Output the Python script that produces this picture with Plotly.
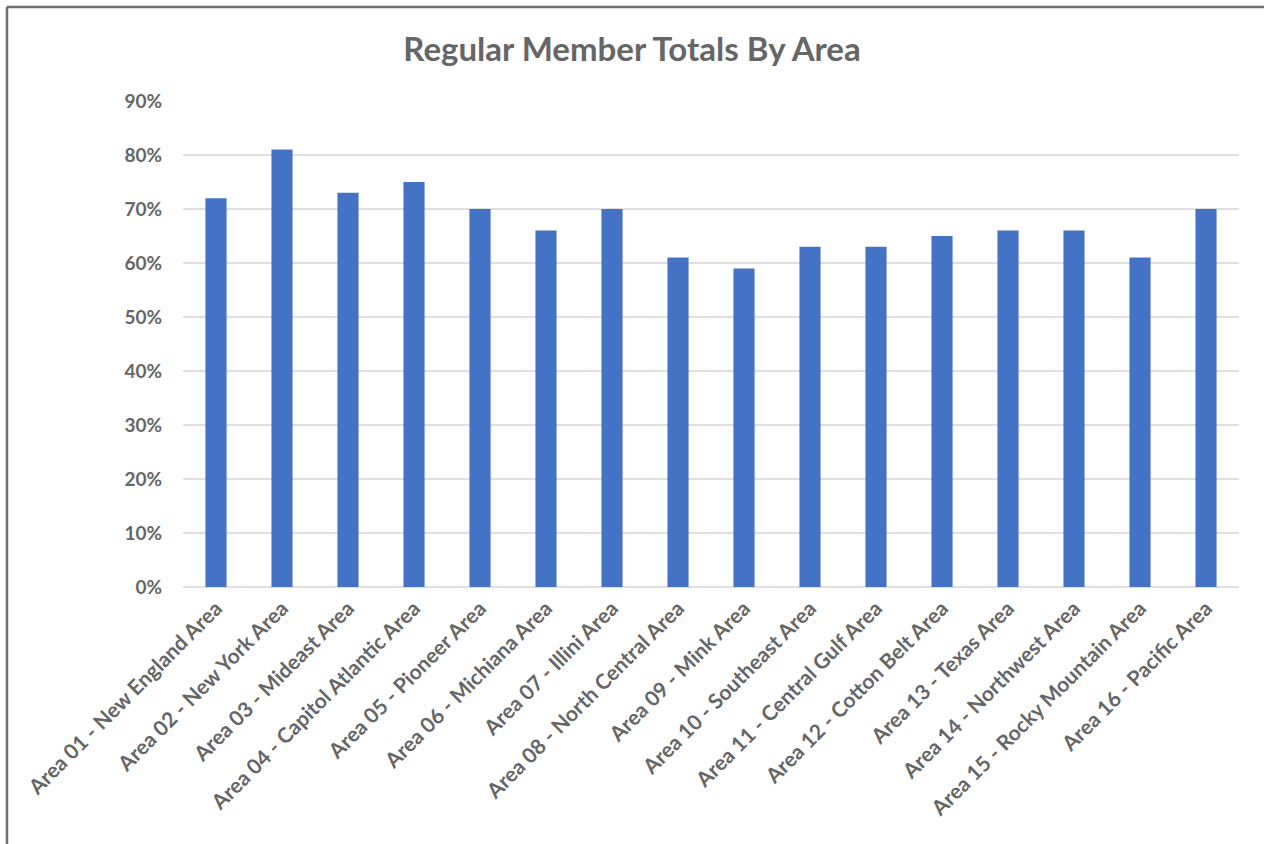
import plotly.graph_objects as go

areas = [
    "Area 01 - New England Area", "Area 02 - New York Area", "Area 03 - Mideast Area",
    "Area 04 - Capitol Atlantic Area", "Area 05 - Pioneer Area", "Area 06 - Michiana Area",
    "Area 07 - Illini Area", "Area 08 - North Central Area", "Area 09 - Mink Area",
    "Area 10 - Southeast Area", "Area 11 - Central Gulf Area", "Area 12 - Cotton Belt Area",
    "Area 13 - Texas Area", "Area 14 - Northwest Area", "Area 15 - Rocky Mountain Area",
    "Area 16 - Pacific Area",
]
values = [0.72, 0.81, 0.73, 0.75, 0.70, 0.66, 0.70, 0.61, 0.59, 0.63, 0.63, 0.65, 0.66, 0.66, 0.61, 0.70]
tick_vals = [0, 0.1, 0.2, 0.3, 0.4, 0.5, 0.6, 0.7, 0.8, 0.9]

FONT = "Lato"
GRAY = "#666666"

fig = go.Figure(go.Bar(x=areas, y=values, marker=dict(color="#4472C4", line=dict(width=0))))

W, H = 1264, 844
L, R, T, B = 183, 25, 101, 257
pw, ph = W - L - R, H - T - B

def px(x):
    return (x - L) / pw

def py(y):
    return (H - B - y) / ph

fig.update_layout(
    width=W, height=H,
    margin=dict(l=L, r=R, t=T, b=B, autoexpand=False),
    paper_bgcolor="white", plot_bgcolor="white",
    bargap=0.68,
    showlegend=False,
    title=dict(text="Regular Member Totals By Area", x=0.5, xanchor="center",
               y=1 - 49 / H, yanchor="middle",
               font=dict(family=FONT, size=33, color=GRAY, weight="bold")),
    xaxis=dict(tickangle=-45, tickfont=dict(family=FONT, size=21, color=GRAY, weight="bold"),
               showgrid=False, showline=False, ticks="", ticklabelstandoff=4),
    yaxis=dict(range=[0, 0.9], tickvals=tick_vals, tickformat=".0%",
               tickfont=dict(family=FONT, size=19, color=GRAY, weight="bold"),
               showgrid=True, gridcolor="#E0E0E0", gridwidth=2,
               zeroline=True, zerolinecolor="#E0E0E0", zerolinewidth=2,
               showline=False, ticks="", ticklabelstandoff=20),
    shapes=[
        dict(type="line", xref="paper", yref="paper", x0=px(7), x1=px(7), y0=py(7), y1=py(860),
             line=dict(color="#6E6E6E", width=2.5)),
        dict(type="line", xref="paper", yref="paper", x0=px(7), x1=px(1280), y0=py(7), y1=py(7),
             line=dict(color="#6E6E6E", width=2.5)),
    ],
)

fig.write_html("out.html", config={"displayModeBar": False},
               post_script="document.body.style.margin='0';document.body.style.overflow='hidden';")
